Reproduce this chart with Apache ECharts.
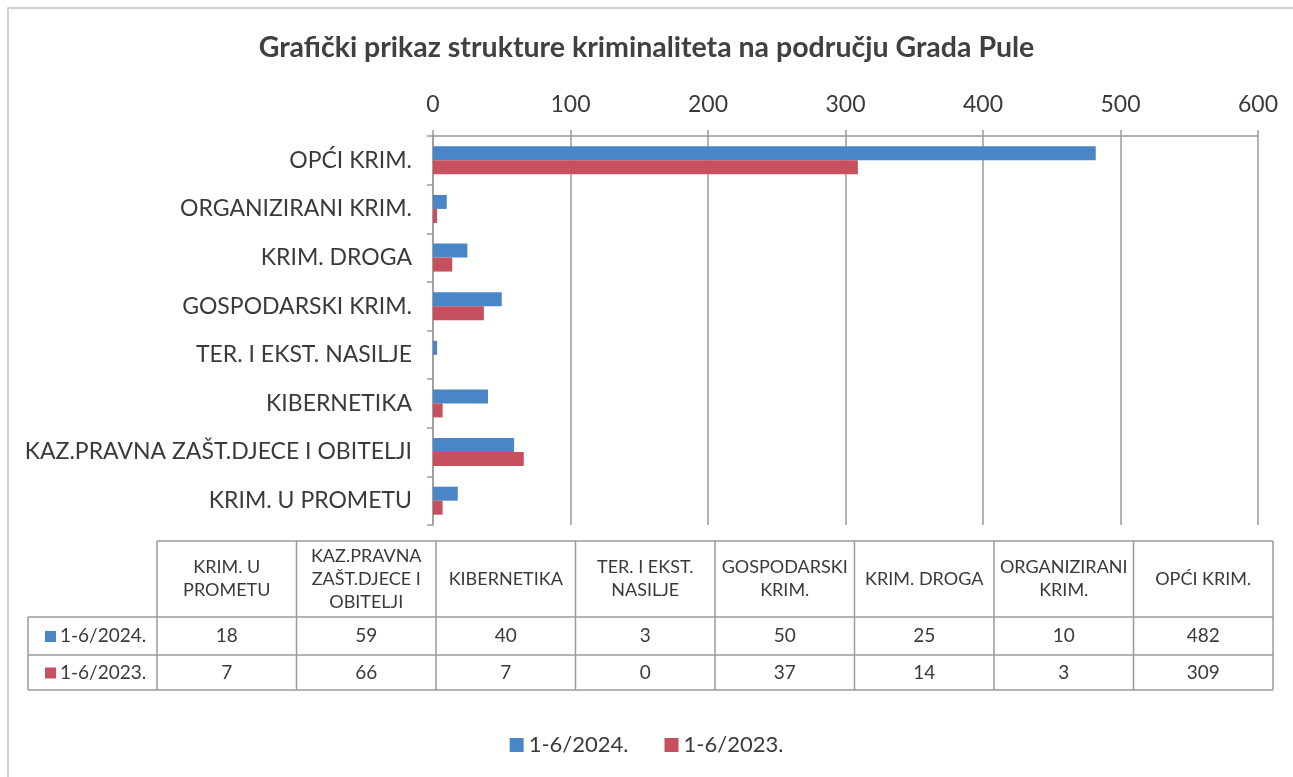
<!DOCTYPE html>
<html>
<head>
<meta charset="utf-8">
<script src="https://cdn.jsdelivr.net/npm/echarts@6/dist/echarts.min.js"></script>
<style>
  html, body { margin: 0; padding: 0; background: #fff; }
  #chart { width: 1293px; height: 777px; }
</style>
</head>
<body>
<div id="chart"></div>
<script>
// categories, bottom to top on the chart (same order as the data table)
var kategorije = ['KRIM. U PROMETU', 'KAZ.PRAVNA ZAŠT.DJECE I OBITELJI', 'KIBERNETIKA', 'TER. I EKST. NASILJE',
    'GOSPODARSKI KRIM.', 'KRIM. DROGA', 'ORGANIZIRANI KRIM.', 'OPĆI KRIM.'];
// header text of the data table (wrapped as in the picture)
var zaglavlja = ['KRIM. U\nPROMETU', 'KAZ.PRAVNA\nZAŠT.DJECE I\nOBITELJI', 'KIBERNETIKA', 'TER. I EKST.\nNASILJE',
    'GOSPODARSKI\nKRIM.', 'KRIM. DROGA', 'ORGANIZIRANI\nKRIM.', 'OPĆI KRIM.'];
var nazivi = ['1-6/2024.', '1-6/2023.'];
var god2024 = [18, 59, 40, 3, 50, 25, 10, 482];
var god2023 = [7, 66, 7, 0, 37, 14, 3, 309];
var xTicks = [0, 100, 200, 300, 400, 500, 600];

var boje = ['#4a86c6', '#c7505e'];
var font = 'Lato';
var siva = '#9a9a9a';

/* tablica ispod grafa - crtamo je kao graphic */
var tabLijevo = 157, tabDesno = 1273, legLijevo = 28;
var yZag = 541, yRed1 = 617, yRed2 = 655, yKraj = 690;
var sirStupca = (tabDesno - tabLijevo) / kategorije.length;

var tablica = [];
function linija(x1, y1, x2, y2) {
    tablica.push({
        type: 'line', shape: { x1: x1, y1: y1, x2: x2, y2: y2 },
        style: { stroke: siva, lineWidth: 1.5 }
    });
}
function tekst(x, y, t, size) {
    tablica.push({
        type: 'text', x: x, y: y,
        style: { text: t, fill: '#3a3a3a', font: size + 'px ' + font, align: 'center', verticalAlign: 'middle', lineHeight: size + 5 }
    });
}
// horizontalne linije
linija(tabLijevo, yZag, tabDesno, yZag);
linija(legLijevo, yRed1, tabDesno, yRed1);
linija(legLijevo, yRed2, tabDesno, yRed2);
linija(legLijevo, yKraj, tabDesno, yKraj);
// vertikalne linije
linija(legLijevo, yRed1, legLijevo, yKraj);
for (var i = 0; i <= kategorije.length; i++) {
    var xx = tabLijevo + i * sirStupca;
    linija(xx, yZag, xx, yKraj);
}
var vrijednosti = [god2024, god2023];
var yRedovi = [(yRed1 + yRed2) / 2, (yRed2 + yKraj) / 2];
for (var i = 0; i < kategorije.length; i++) {
    var cx = tabLijevo + (i + 0.5) * sirStupca;
    tekst(cx, (yZag + yRed1) / 2, zaglavlja[i], 18);
    tekst(cx, yRedovi[0], String(vrijednosti[0][i]), 19);
    tekst(cx, yRedovi[1], String(vrijednosti[1][i]), 19);
}
for (var r = 0; r < 2; r++) {
    tablica.push({
        type: 'rect', shape: { x: 45, y: yRedovi[r] - 5, width: 11, height: 11 },
        style: { fill: boje[r] }
    });
    tablica.push({
        type: 'text', x: 60, y: yRedovi[r],
        style: { text: nazivi[r], fill: '#3a3a3a', font: '19px ' + font, align: 'left', verticalAlign: 'middle' }
    });
}
// okvir oko cijelog grafikona
tablica.push({
    type: 'rect', shape: { x: 8, y: 8, width: 1300, height: 800 },
    style: { fill: 'none', stroke: '#c4c4c4', lineWidth: 1.5 }, z: -1
});

var chartOption = {
    animation: false,
    textStyle: { fontFamily: font, color: '#3a3a3a' },
    title: {
        text: 'Grafički prikaz strukture kriminaliteta na području Grada Pule',
        left: 'center',
        top: 28,
        textStyle: { fontFamily: font, fontSize: 28.5, fontWeight: 'bold', color: '#404040' }
    },
    legend: {
        data: nazivi,
        bottom: 16,
        left: 'center',
        icon: 'rect',
        itemWidth: 14,
        itemHeight: 14,
        itemGap: 36,
        textStyle: { fontSize: 22, color: '#3a3a3a' }
    },
    grid: {
        left: 433,
        right: 35,
        top: 136,
        bottom: 252
    },
    xAxis: {
        type: 'value',
        position: 'top',
        min: xTicks[0],
        max: xTicks[xTicks.length - 1],
        interval: xTicks[1] - xTicks[0],
        axisLine: { show: true, lineStyle: { color: siva, width: 1.5 } },
        axisTick: { show: true, length: 6, lineStyle: { color: siva, width: 1.5 } },
        axisLabel: { fontSize: 23, color: '#3a3a3a', margin: 20 },
        splitLine: { show: true, lineStyle: { color: siva, width: 1.5 } }
    },
    yAxis: {
        type: 'category',
        data: kategorije,
        axisLine: { show: true, lineStyle: { color: siva, width: 1.5 } },
        axisTick: { show: true, length: 6, lineStyle: { color: siva, width: 1.5 } },
        axisLabel: { fontSize: 23, color: '#3a3a3a', margin: 21 }
    },
    graphic: tablica,
    series: [{
        name: nazivi[0],
        type: 'bar',
        data: god2024,
        barWidth: 14,
        barGap: '0%',
        itemStyle: { color: boje[0] }
    }, {
        name: nazivi[1],
        type: 'bar',
        data: god2023,
        barWidth: 14,
        barGap: '0%',
        itemStyle: { color: boje[1] }
    }]
};

var graf = echarts.init(document.getElementById('chart'));
graf.setOption(chartOption);
</script>
</body>
</html>
